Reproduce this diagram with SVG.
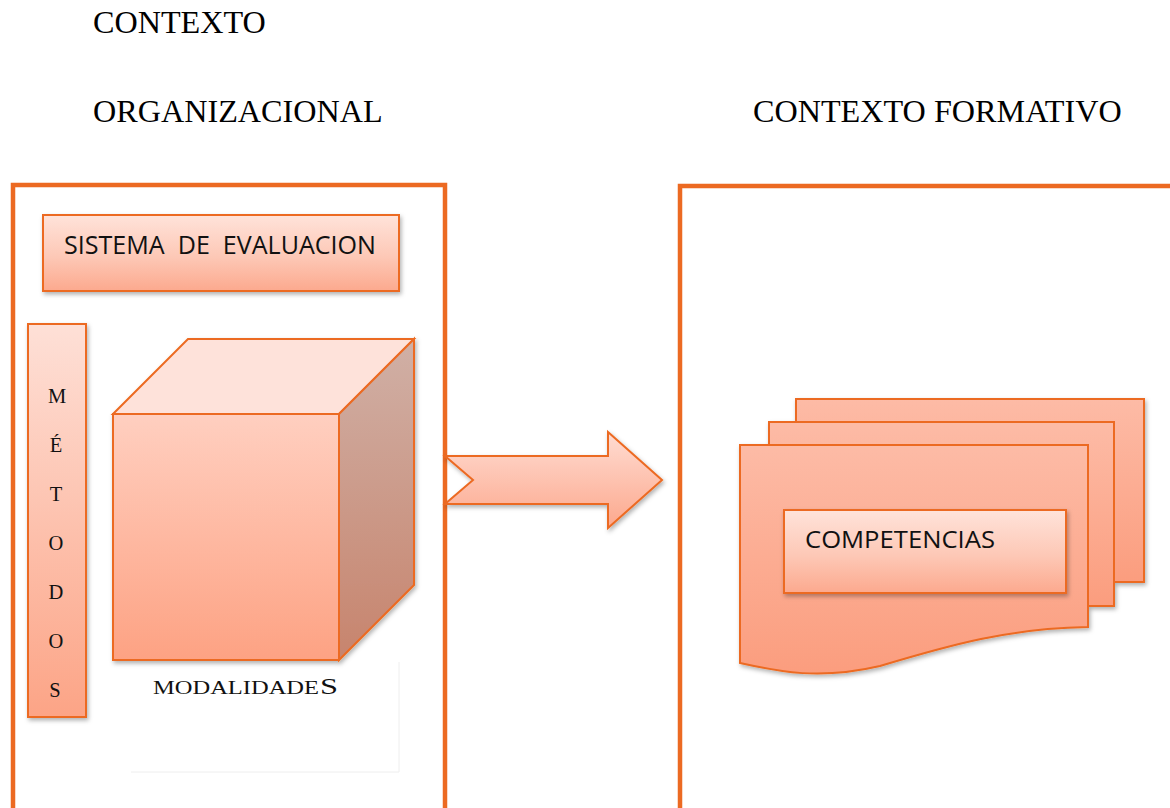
<svg xmlns="http://www.w3.org/2000/svg" width="1170" height="808" viewBox="0 0 1170 808">
<style>
.hdr{font-family:"Liberation Serif","Times New Roman",serif;font-size:32.2px;fill:#000}
.frame{fill:#fff;stroke:#EC6A22;stroke-width:4.5}
.ol{stroke:#EC6A22;stroke-width:2;stroke-linejoin:miter}
.sans{font-family:"Open Sans","Liberation Sans",sans-serif;fill:#111}
.ser{font-family:"Liberation Serif","Times New Roman",serif;fill:#111}
</style>
<defs>
<linearGradient id="gBox" x1="0" y1="0" x2="0" y2="1">
<stop offset="0" stop-color="#FFE3DA"/><stop offset="0.55" stop-color="#FDC8B6"/><stop offset="1" stop-color="#FCA98E"/>
</linearGradient>
<linearGradient id="gCol" x1="0" y1="0" x2="0" y2="1">
<stop offset="0" stop-color="#FEE0D7"/><stop offset="1" stop-color="#FCA486"/>
</linearGradient>
<linearGradient id="gFront" x1="0" y1="0" x2="0" y2="1">
<stop offset="0" stop-color="#FFCFC0"/><stop offset="1" stop-color="#FDA283"/>
</linearGradient>
<linearGradient id="gSide" x1="0" y1="0" x2="0" y2="1">
<stop offset="0" stop-color="#D0B0A6"/><stop offset="1" stop-color="#C7846D"/>
</linearGradient>
<linearGradient id="gArrow" x1="0" y1="0" x2="0" y2="1">
<stop offset="0" stop-color="#FFDCD2"/><stop offset="1" stop-color="#FCA88D"/>
</linearGradient>
<linearGradient id="gPage" x1="0" y1="0" x2="0" y2="1">
<stop offset="0" stop-color="#FDBBA6"/><stop offset="1" stop-color="#FB9D7E"/>
</linearGradient>
<filter id="sh" x="-10%" y="-10%" width="130%" height="130%">
<feDropShadow dx="1.5" dy="2.5" stdDeviation="2" flood-color="#000" flood-opacity="0.3"/>
</filter>
</defs>

<g id="headers">
<text class="hdr" x="93" y="33">CONTEXTO</text>
<text class="hdr" x="93" y="122">ORGANIZACIONAL</text>
<text class="hdr" x="753" y="122">CONTEXTO FORMATIVO</text>
</g>

<g id="contexto-organizacional">
<rect class="frame" x="13" y="185" width="432" height="640"/>
</g>
<g id="contexto-formativo">
<rect class="frame" x="680" y="186" width="500" height="640"/>
</g>

<g id="sistema-evaluacion">
<rect x="43" y="215" width="356" height="76" fill="url(#gBox)" class="ol" filter="url(#sh)"/>
<text class="sans" x="64" y="254" font-size="25" textLength="312" lengthAdjust="spacingAndGlyphs" xml:space="preserve">SISTEMA  DE  EVALUACION</text>
</g>

<g id="metodos">
<rect x="28" y="324" width="58" height="393" fill="url(#gCol)" class="ol" filter="url(#sh)"/>
<g class="ser" font-size="20.5" text-anchor="middle">
<text x="57" y="403">M</text>
<text x="56" y="452">É</text>
<text x="56" y="501">T</text>
<text x="56" y="550">O</text>
<text x="56" y="599">D</text>
<text x="56" y="648">O</text>
<text x="55" y="697">S</text>
</g>
</g>

<g id="modalidades">
<line x1="399" y1="662" x2="399" y2="772" stroke="#EEEEEE" stroke-width="1"/>
<line x1="131" y1="772" x2="399" y2="772" stroke="#EEEEEE" stroke-width="1"/>
<g filter="url(#sh)">
<polygon points="113,414 188,339 414,339 339,414" fill="#FEE2DA" class="ol"/>
<polygon points="339,414 414,339 414,585 339,660" fill="url(#gSide)" class="ol"/>
<rect x="113" y="414" width="226" height="246" fill="url(#gFront)" class="ol"/>
</g>
<text class="ser" x="153" y="694" font-size="18" textLength="166" lengthAdjust="spacingAndGlyphs">MODALIDADE</text>
<text class="ser" x="320" y="694" font-size="24" textLength="18" lengthAdjust="spacingAndGlyphs">S</text>
</g>

<g id="connectors">
<polygon points="445,456 608,456 608,432 662,480 608,528 608,504 445,504 473,480" fill="url(#gArrow)" class="ol" filter="url(#sh)"/>
</g>

<g id="competencias">
<g filter="url(#sh)">
<rect x="796" y="399" width="348" height="183" fill="url(#gPage)" class="ol"/>
<rect x="769" y="422" width="345" height="184" fill="url(#gPage)" class="ol"/>
<path d="M740,445 L1088,445 L1088,627 C1010,628 950,645 880,666 C820,680 780,672 740,663 Z" fill="url(#gPage)" class="ol"/>
</g>
<rect x="784" y="510" width="282" height="83" fill="url(#gBox)" class="ol" filter="url(#sh)"/>
<text class="sans" x="805" y="548" font-size="24" textLength="190" lengthAdjust="spacingAndGlyphs">COMPETENCIAS</text>
</g>
</svg>
